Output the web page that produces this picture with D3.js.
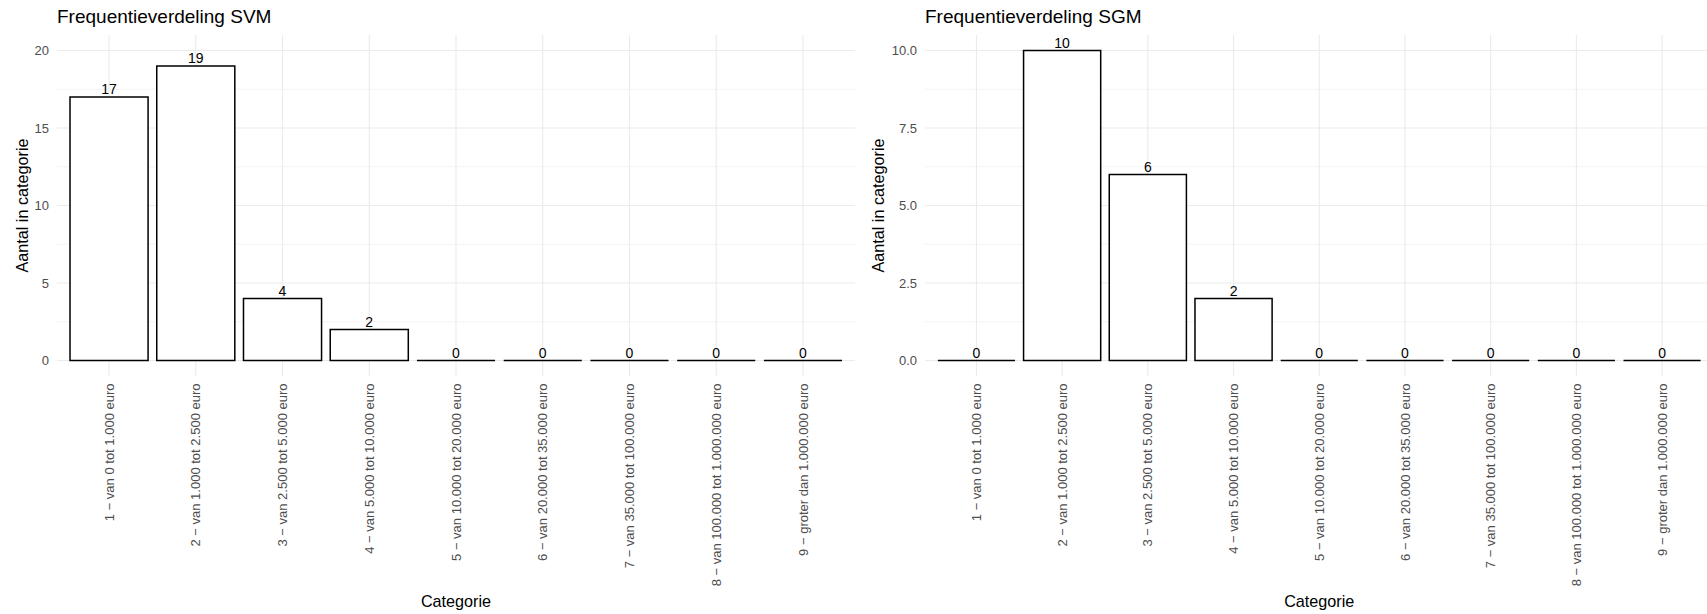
<!DOCTYPE html>
<html>
<head>
<meta charset="utf-8">
<script src="https://cdn.jsdelivr.net/npm/d3@7"></script>
<style>
  html, body { margin: 0; padding: 0; background: #ffffff; }
  svg { display: block; font-family: "Liberation Sans", Arial, sans-serif; }
</style>
</head>
<body>
<svg id="chart" width="1707" height="614"></svg>
<script>
// ---- data ----
const categories = [
  "1 − van 0 tot 1.000 euro",
  "2 − van 1.000 tot 2.500 euro",
  "3 − van 2.500 tot 5.000 euro",
  "4 − van 5.000 tot 10.000 euro",
  "5 − van 10.000 tot 20.000 euro",
  "6 − van 20.000 tot 35.000 euro",
  "7 − van 35.000 tot 100.000 euro",
  "8 − van 100.000 tot 1.000.000 euro",
  "9 − groter dan 1.000.000 euro"
];
const svmValues = [17, 19, 4, 2, 0, 0, 0, 0, 0];
const sgmValues = [0, 10, 6, 2, 0, 0, 0, 0, 0];
const svmTicks = [0, 5, 10, 15, 20];
const svmMinorTicks = [2.5, 7.5, 12.5, 17.5];
const sgmTicks = [0, 2.5, 5, 7.5, 10];
const sgmMinorTicks = [1.25, 3.75, 6.25, 8.75];
const svmTitle = "Frequentieverdeling SVM";
const sgmTitle = "Frequentieverdeling SGM";
const xTitle = "Categorie";
const yTitle = "Aantal in categorie";

const svg = d3.select("#chart");

function drawPanel(cfg) {
  const { left, right, top, bottom, yDomain, values, ticks, minorTicks, tickFmt, title, yTitleX } = cfg;
  const g = svg.append("g");

  const x = d3.scaleBand().domain(categories).range([left, right])
    .paddingInner(0.1).paddingOuter(0.15);
  const y = d3.scaleLinear().domain(yDomain).range([bottom, top]);

  const grid = g.append("g");
  grid.selectAll("line.minor").data(minorTicks).enter().append("line")
    .attr("x1", left).attr("x2", right)
    .attr("y1", d => y(d)).attr("y2", d => y(d))
    .attr("stroke", "#ebebeb").attr("stroke-width", 0.6);
  grid.selectAll("line.major").data(ticks).enter().append("line")
    .attr("x1", left).attr("x2", right)
    .attr("y1", d => y(d)).attr("y2", d => y(d))
    .attr("stroke", "#ebebeb").attr("stroke-width", 1.1);
  grid.selectAll("line.v").data(categories).enter().append("line")
    .attr("x1", d => x(d) + x.bandwidth() / 2).attr("x2", d => x(d) + x.bandwidth() / 2)
    .attr("y1", top).attr("y2", bottom)
    .attr("stroke", "#ebebeb").attr("stroke-width", 1.1);

  const yAxis = d3.axisLeft(y).tickValues(ticks).tickFormat(tickFmt).tickSize(0).tickPadding(8);
  const ya = g.append("g").attr("transform", `translate(${left},0)`).call(yAxis);
  ya.select(".domain").remove();
  ya.selectAll("text").attr("fill", "#4d4d4d").style("font-size", "13px")
    .style("font-family", "'Liberation Sans', Arial, sans-serif");

  g.selectAll("text.xt").data(categories).enter().append("text")
    .attr("transform", d => `translate(${x(d) + x.bandwidth() / 2},${bottom + 7.5}) rotate(-90)`)
    .attr("text-anchor", "end").attr("dy", "0.35em")
    .attr("fill", "#4d4d4d").style("font-size", "13px")
    .text(d => d);

  const data = categories.map((c, i) => ({ c, v: values[i] }));
  g.selectAll("path.bar").data(data).enter().append("path")
    .attr("d", d => {
      const x0 = x(d.c), x1 = x(d.c) + x.bandwidth();
      const y0 = y(0), y1 = y(d.v);
      return `M${x0},${y0}V${y1}H${x1}V${y0}Z`;
    })
    .attr("fill", "#ffffff").attr("stroke", "#000000").attr("stroke-width", 1.5);

  g.selectAll("text.val").data(data).enter().append("text")
    .attr("x", d => x(d.c) + x.bandwidth() / 2)
    .attr("y", d => y(d.v) - 3)
    .attr("text-anchor", "middle")
    .attr("fill", "#000000").style("font-size", "14px")
    .text(d => d.v);

  g.append("text").attr("x", left).attr("y", 23)
    .attr("fill", "#000000").style("font-size", "19px").text(title);

  g.append("text").attr("x", (left + right) / 2).attr("y", 607)
    .attr("text-anchor", "middle").attr("fill", "#000000").style("font-size", "16.2px").text(xTitle);

  g.append("text")
    .attr("transform", `translate(${yTitleX},${(top + bottom) / 2}) rotate(-90)`)
    .attr("text-anchor", "middle").attr("fill", "#000000").style("font-size", "16.2px").text(yTitle);
}

drawPanel({
  left: 57, right: 855, top: 35, bottom: 376, yDomain: [-1, 21],
  values: svmValues, ticks: svmTicks, minorTicks: svmMinorTicks,
  tickFmt: d3.format("d"), title: svmTitle, yTitleX: 28
});
drawPanel({
  left: 925, right: 1713.5, top: 35, bottom: 376, yDomain: [-0.5, 10.5],
  values: sgmValues, ticks: sgmTicks, minorTicks: sgmMinorTicks,
  tickFmt: d3.format(".1f"), title: sgmTitle, yTitleX: 884
});
</script>
</body>
</html>
